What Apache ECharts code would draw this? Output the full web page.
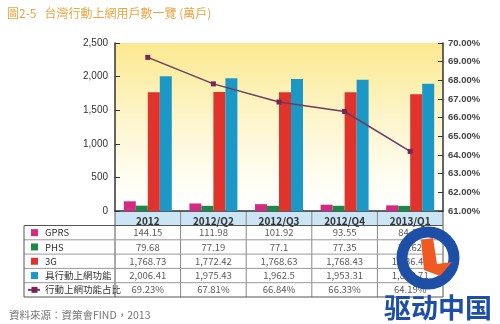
<!DOCTYPE html>
<html>
<head>
<meta charset="utf-8">
<script src="https://cdn.jsdelivr.net/npm/echarts@6/dist/echarts.min.js"></script>
<style>
html,body{margin:0;padding:0;background:#fff;}
#c{width:500px;height:324px;}
</style>
</head>
<body>
<div id="c"></div>
<script>
const titleText = '圖2-5   台灣行動上網用戶數一覽 (萬戶)';
const sourceText = '資料來源：資策會FIND，2013';
const categories = ['2012', '2012/Q2', '2012/Q3', '2012/Q4', '2013/Q1'];
const seriesNames = ['GPRS', 'PHS', '3G', '具行動上網功能', '行動上網功能占比'];
const gprs = [144.15, 111.98, 101.92, 93.55, 84.19];
const phs = [79.68, 77.19, 77.1, 77.35, 76.62];
const g3 = [1768.73, 1772.42, 1768.63, 1768.43, 1736.45];
const mobileNet = [2006.41, 1975.43, 1962.5, 1953.31, 1893.71];
const ratio = [69.23, 67.81, 66.84, 66.33, 64.19];
const leftTicks = [0, 500, 1000, 1500, 2000, 2500];
const rightTicks = [61, 62, 63, 64, 65, 66, 67, 68, 69, 70];
const colors = ['#d62a82', '#1b8a48', '#e0332b', '#1b98c6', '#6e3a60'];

const FONT = '"Liberation Sans", Arial, sans-serif';
const CJK = '"Noto Sans CJK TC", "Noto Sans", sans-serif';

const chart = echarts.init(document.getElementById('c'), null, {renderer: 'canvas'});

const fmtNum = v => v.toLocaleString('en-US', {maximumFractionDigits: 2});
const fmtPct = v => v.toFixed(2) + '%';

const barSeries = [gprs, phs, g3, mobileNet].map((d, i) => ({
  name: seriesNames[i],
  type: 'bar',
  data: d,
  barWidth: 12,
  barGap: '0%',
  itemStyle: {color: colors[i]},
  z: 3
}));

chart.setOption({
  animation: false,
  grid: {
    left: 115, right: 57, top: 43, bottom: 113,
    show: true, borderWidth: 0,
    backgroundColor: new echarts.graphic.LinearGradient(0, 0, 0, 1, [
      {offset: 0, color: '#fbe98f'},
      {offset: 0.45, color: '#fdf5cb'},
      {offset: 0.8, color: '#fffdf2'},
      {offset: 1, color: '#ffffff'}
    ])
  },
  xAxis: {
    type: 'category',
    data: categories,
    axisLine: {lineStyle: {color: '#333', width: 1.5}},
    axisTick: {show: false},
    axisLabel: {
      margin: 4, color: '#333', fontSize: 10, fontWeight: 'bold', fontFamily: CJK,
      lineHeight: 12
    }
  },
  yAxis: [{
    type: 'value', min: 0, max: 2500, interval: 500,
    axisLine: {show: true, lineStyle: {color: '#333', width: 1.5}},
    axisTick: {show: true, inside: true, length: 5, lineStyle: {color: '#333'}},
    splitLine: {show: false},
    axisLabel: {
      margin: 7, color: '#333', fontSize: 10, fontFamily: FONT,
      formatter: v => leftTicks.indexOf(v) >= 0 ? v.toLocaleString('en-US') : ''
    }
  }, {
    type: 'value', min: 61, max: 70, interval: 1, position: 'right',
    axisLine: {show: true, lineStyle: {color: '#333', width: 1.5}},
    axisTick: {show: true, inside: true, length: 5, lineStyle: {color: '#333'}},
    splitLine: {show: false},
    axisLabel: {
      margin: 5, color: '#444', fontSize: 9.5, fontWeight: 'bold', fontFamily: FONT,
      formatter: v => rightTicks.indexOf(Math.round(v)) >= 0 ? fmtPct(v) : ''
    }
  }],
  series: barSeries.concat([{
    name: seriesNames[4],
    type: 'line',
    yAxisIndex: 1,
    data: ratio,
    symbol: 'rect',
    symbolSize: 5,
    lineStyle: {color: colors[4], width: 1.5},
    itemStyle: {color: '#7a2456'},
    z: 5
  }])
});

// Build data table from arrays, using axis positions
const colX = categories.map((c, i) => chart.convertToPixel({xAxisIndex: 0}, i));
const grid = chart.getModel().getComponent('grid').coordinateSystem.getRect();
const bandW = colX.length > 1 ? colX[1] - colX[0] : grid.width;
const tableLeft = 24;
const headTop = grid.y + grid.height;
const rowH = 14.3;
const headBottom = headTop + 14.5;
const rows = [gprs.map(fmtNum), phs.map(fmtNum), g3.map(fmtNum), mobileNet.map(fmtNum), ratio.map(fmtPct)];
const tableBottom = headBottom + rowH * rows.length;
const right = grid.x + grid.width;

const g = [];
g.push({type: 'rect', shape: {x: grid.x, y: headTop, width: grid.width, height: headBottom - headTop},
  style: {fill: '#cbe5f4'}, z: -1});
for (let i = 0; i <= categories.length; i++) {
  const x = grid.x + i * bandW;
  g.push({type: 'line', shape: {x1: x, y1: headTop, x2: x, y2: tableBottom},
    style: {stroke: i === 0 || i === categories.length ? '#555' : '#888', lineWidth: 1}});
}
for (let r = 0; r <= rows.length; r++) {
  const y = headBottom + r * rowH;
  g.push({type: 'line', shape: {x1: tableLeft, y1: y, x2: right, y2: y},
    style: {stroke: r === 0 || r === rows.length ? '#555' : '#999', lineWidth: 1}});
}
g.push({type: 'line', shape: {x1: tableLeft, y1: headBottom, x2: tableLeft, y2: tableBottom},
  style: {stroke: '#555', lineWidth: 1}});
rows.forEach((row, r) => {
  const cy = headBottom + r * rowH + rowH / 2;
  row.forEach((txt, c) => {
    g.push({type: 'text', x: colX[c], y: cy,
      style: {text: txt, fill: '#5a5a5a', fontSize: 9.5, fontFamily: CJK, align: 'center', verticalAlign: 'middle'}});
  });
  if (r < 4) {
    g.push({type: 'rect', shape: {x: 31, y: cy - 3.5, width: 7, height: 7}, style: {fill: colors[r]}});
  } else {
    g.push({type: 'line', shape: {x1: 28, y1: cy, x2: 40, y2: cy}, style: {stroke: colors[4], lineWidth: 2}});
    g.push({type: 'rect', shape: {x: 31.5, y: cy - 3, width: 6, height: 6}, style: {fill: '#7a2456'}});
  }
  g.push({type: 'text', x: 45, y: cy,
    style: {text: seriesNames[r], fill: '#333', fontSize: 9.5, fontFamily: CJK, align: 'left', verticalAlign: 'middle'}});
});
g.push({type: 'text', x: 7, y: 13, style: {text: titleText, fill: '#eba540', fontSize: 12, fontFamily: CJK, verticalAlign: 'middle'}});
g.push({type: 'text', x: 9, y: 315, style: {text: sourceText, fill: '#777', fontSize: 10.5, fontFamily: CJK, verticalAlign: 'middle'}});
// watermark
g.push({type: 'circle', shape: {cx: 428, cy: 258, r: 26}, style: {fill: 'none', stroke: '#1d4fa6', lineWidth: 11}, z: 20});
g.push({type: 'polygon', shape: {points: [[421, 240], [433, 238], [437, 264], [452, 262], [440, 276], [424, 270]]},
  style: {fill: '#f05a22'}, z: 20});
g.push({type: 'text', x: 438, y: 308, style: {text: '驱动中国', fill: '#1d4fa6', fontSize: 27, fontWeight: 'bold', fontFamily: CJK, align: 'center', verticalAlign: 'middle'}, z: 20});

chart.setOption({graphic: g});
</script>
</body>
</html>
